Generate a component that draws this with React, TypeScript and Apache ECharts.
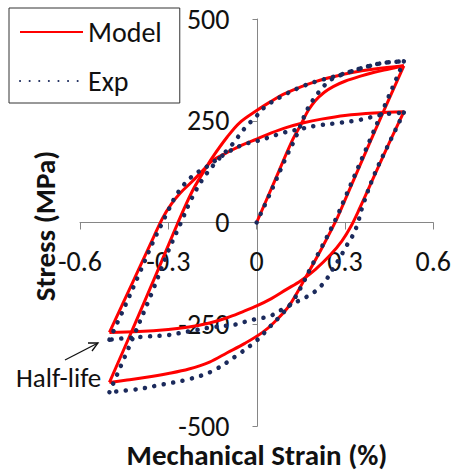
import React, { useEffect, useRef } from "react";
import * as echarts from "echarts";

// Strain (%) / Stress (MPa) pairs
const modelInitial: number[][] = [
  [0, 0], [0.06, 100], [0.12, 200], [0.15, 240], [0.175, 275], [0.2, 300], [0.23, 320],
  [0.26, 334], [0.3, 347], [0.35, 359], [0.4, 369], [0.45, 377], [0.5, 385],
];
const modelLargeLower: number[][] = [
  [0.5, 385], [0.4, 222], [0.3, 55], [0.27, 5], [0.22, -65], [0.17, -130], [0.11, -205],
  [0.06, -245], [0.02, -270], [-0.04, -297], [-0.1, -320], [-0.16, -343], [-0.23, -360],
  [-0.3, -371], [-0.38, -381], [-0.44, -387], [-0.5, -393],
];
const modelLargeUpper: number[][] = [
  [-0.5, -393], [-0.42, -260], [-0.34, -125], [-0.27, -5], [-0.22, 75], [-0.18, 125],
  [-0.15, 160], [-0.1, 210], [-0.058, 245], [0, 275], [0.05, 298], [0.09, 315], [0.15, 333],
  [0.2, 346], [0.26, 358], [0.32, 368], [0.4, 377], [0.5, 385],
];
const modelHalfLower: number[][] = [
  [0.5, 272], [0.45, 195], [0.4, 115], [0.35, 35], [0.32, -10], [0.29, -45], [0.25, -80],
  [0.2, -115], [0.15, -143], [0.1, -165], [0.05, -187], [0, -205], [-0.05, -220],
  [-0.1, -234], [-0.16, -247], [-0.23, -257], [-0.3, -263], [-0.4, -268], [-0.5, -270],
];
const modelHalfUpper: number[][] = [
  [-0.5, -270], [-0.45, -192], [-0.4, -114], [-0.35, -36], [-0.32, 10], [-0.29, 45],
  [-0.26, 72], [-0.22, 100], [-0.18, 130], [-0.15, 152], [-0.1, 172], [-0.05, 190],
  [0, 205], [0.05, 220], [0.1, 233], [0.16, 245], [0.22, 254], [0.3, 263], [0.4, 269],
  [0.5, 272],
];

const expInitial: number[][] = [
  [0, 0], [0.05, 78], [0.1, 160], [0.13, 205], [0.15, 240], [0.17, 275], [0.2, 310],
  [0.22, 328], [0.25, 350], [0.3, 366], [0.36, 380], [0.42, 391], [0.5, 396],
];
const expLargeLower: number[][] = [
  [0.5, 396], [0.4, 228], [0.3, 60], [0.27, 10], [0.22, -62], [0.186, -108], [0.15, -160],
  [0.12, -196], [0.08, -230], [0.044, -257], [0, -290], [-0.07, -328], [-0.15, -365],
  [-0.23, -385], [-0.32, -398], [-0.4, -409], [-0.5, -417],
];
const expLargeUpper: number[][] = [
  [-0.5, -417], [-0.43, -300], [-0.36, -180], [-0.3, -70], [-0.26, -5], [-0.22, 60],
  [-0.18, 110], [-0.136, 150], [-0.085, 190], [-0.04, 232], [0, 262], [0.03, 285],
  [0.09, 312], [0.15, 333], [0.2, 346], [0.26, 358], [0.32, 371], [0.37, 382], [0.43, 392],
  [0.5, 396],
];
const expHalfLower: number[][] = [
  [0.5, 270], [0.45, 195], [0.4, 118], [0.36, 40], [0.342, -5], [0.325, -34], [0.308, -54],
  [0.28, -90], [0.258, -115], [0.237, -140], [0.213, -160], [0.186, -176], [0.152, -189],
  [0.12, -201], [0.088, -213], [0.061, -225], [0.03, -233], [0, -237], [-0.034, -243],
  [-0.075, -251], [-0.149, -257], [-0.227, -267], [-0.305, -277], [-0.373, -280],
  [-0.44, -284], [-0.5, -288],
];
const expHalfUpper: number[][] = [
  [-0.5, -288], [-0.45, -210], [-0.4, -128], [-0.35, -45], [-0.32, 0], [-0.302, 27],
  [-0.268, 73], [-0.22, 113], [-0.17, 137], [-0.102, 171], [-0.047, 191], [0, 200],
  [0.037, 208], [0.088, 220], [0.15, 230], [0.203, 238], [0.281, 245], [0.349, 252],
  [0.427, 265], [0.5, 270],
];

const seriesNames = ["Model", "Exp"];
const FONT = "Carlito, 'Open Sans', 'Noto Sans', sans-serif";

const W = 454;
const H = 472;
const GRID = { left: 80, right: 19, top: 19, bottom: 46 };

export default function App() {
  const ref = useRef<HTMLDivElement>(null);
  useEffect(() => {
    if (!ref.current) return;
    const chart = echarts.init(ref.current, undefined, { renderer: "svg" });
    const modelStyle = { color: "#ff0000", width: 3 };
    const expStyle = { color: "#1b2a5c", width: 4.5, type: [0.1, 9.5], cap: "round" };
    const mk = (name: string, data: number[][], ls: any, z: number) => ({
      type: "line",
      name,
      data,
      symbol: "none",
      showSymbol: false,
      smooth: 0.35,
      lineStyle: ls,
      itemStyle: { color: ls.color },
      z,
      silent: true,
    });
    const modelData = [modelInitial, modelLargeLower, modelLargeUpper, modelHalfLower, modelHalfUpper];
    const expData = [expInitial, expLargeLower, expLargeUpper, expHalfLower, expHalfUpper];
    const series: any[] = [
      ...modelData.map((d) => mk(seriesNames[0], d, modelStyle, 2)),
      ...expData.map((d) => mk(seriesNames[1], d, expStyle, 3)),
    ];
    const ax = { color: "#868686", width: 1 };
    const plotW = W - GRID.left - GRID.right;
    const plotH = H - GRID.top - GRID.bottom;
    chart.setOption({
      animation: false,
      textStyle: { fontFamily: FONT },
      grid: { ...GRID, containLabel: false },
      legend: {
        data: seriesNames,
        orient: "vertical",
        left: 9,
        top: 8,
        padding: [10, 18, 8, 10],
        itemWidth: 63,
        itemHeight: 14,
        itemGap: 21,
        borderColor: "#333",
        borderWidth: 1,
        borderRadius: 0,
        itemStyle: { opacity: 0 },
        textStyle: { fontSize: 28, color: "#111", fontFamily: FONT },
      },
      xAxis: {
        type: "value",
        min: -0.6,
        max: 0.6,
        interval: 0.3,
        position: "bottom",
        offset: -plotH / 2,
        axisLine: { onZero: false, lineStyle: ax },
        axisTick: { show: true, length: 7, lineStyle: ax },
        splitLine: { show: false },
        axisLabel: { fontSize: 28, color: "#111", margin: 25, fontFamily: FONT },
      },
      yAxis: {
        type: "value",
        min: -500,
        max: 500,
        interval: 250,
        position: "left",
        offset: -plotW / 2,
        axisLine: { show: true, onZero: false, lineStyle: ax },
        axisTick: { show: true, length: 5, lineStyle: ax },
        splitLine: { show: false },
        axisLabel: { fontSize: 28, color: "#111", margin: 28, fontFamily: FONT },
      },
      graphic: [
        {
          type: "text",
          x: 257,
          y: 455,
          style: {
            text: "Mechanical Strain (%)",
            font: `bold 29px ${FONT}`,
            fill: "#111",
            align: "center",
            verticalAlign: "middle",
          },
        },
        {
          type: "text",
          x: 45,
          y: 226,
          rotation: Math.PI / 2,
          style: {
            text: "Stress (MPa)",
            font: `bold 29px ${FONT}`,
            fill: "#111",
            align: "center",
            verticalAlign: "middle",
          },
        },
        {
          type: "text",
          x: 16,
          y: 377,
          style: {
            text: "Half-life",
            font: `27px ${FONT}`,
            fill: "#111",
            align: "left",
            verticalAlign: "middle",
          },
        },
        {
          type: "line",
          shape: { x1: 65, y1: 360, x2: 98, y2: 343 },
          style: { stroke: "#111", lineWidth: 1.3 },
        },
        {
          type: "polyline",
          shape: { points: [[88, 343], [98, 343], [92, 351]] },
          style: { stroke: "#111", lineWidth: 1.3, fill: null },
        },
      ],
      series,
    });
    return () => chart.dispose();
  }, []);
  return (
    <div
      ref={ref}
      style={{ position: "fixed", left: 0, top: 0, width: W, height: H, background: "#fff" }}
    />
  );
}
